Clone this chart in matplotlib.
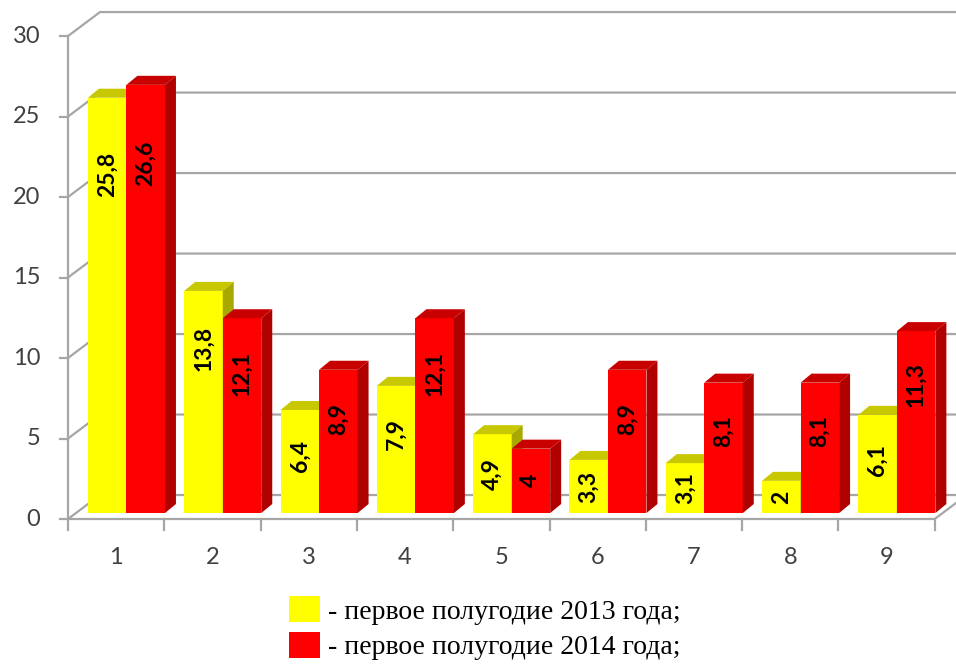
import matplotlib.pyplot as plt
from matplotlib.patches import Polygon, Patch
from matplotlib.font_manager import FontProperties

categories = ['1', '2', '3', '4', '5', '6', '7', '8', '9']
first_half_2013 = [25.8, 13.8, 6.4, 7.9, 4.9, 3.3, 3.1, 2, 6.1]
first_half_2014 = [26.6, 12.1, 8.9, 12.1, 4, 8.9, 8.1, 8.1, 11.3]
y_ticks = [0, 5, 10, 15, 20, 25, 30]
legend_labels = ['- первое полугодие 2013 года;', '- первое полугодие 2014 года;']

fig = plt.figure(figsize=(9.56, 6.70), dpi=100)
ax = fig.add_axes([0, 0, 1, 1])
ax.set_xlim(-0.706, 9.221)
ax.set_ylim(-9.38, 32.24)
ax.axis('off')

n = len(categories)
grid_c = '#a6a6a6'
tick_c = '#404040'
wall_dx, wall_dy = 0.332, 1.49

# back wall + left wall gridlines, y ticks
for t in y_ticks:
    ax.plot([0, wall_dx, n + 1], [t, t + wall_dy, t + wall_dy],
            color=grid_c, lw=1.6, zorder=1)
    ax.plot([-0.083, 0], [t, t], color=grid_c, lw=1.6, zorder=1)
    ax.text(-0.29, t, str(t), ha='right', va='center', fontsize=17,
            family='Lato', color=tick_c)

# floor / front axes
ax.plot([0, 0], [0, y_ticks[-1]], color=grid_c, lw=1.6, zorder=5)
ax.plot([0, n, n + wall_dx], [0, 0, wall_dy], color=grid_c, lw=1.6, zorder=5)
for k in range(n + 1):
    ax.plot([k, k], [0, -0.68], color=grid_c, lw=1.6, zorder=5)
for k, c in enumerate(categories):
    ax.text(k + 0.5, -2.4, c, ha='center', va='center', fontsize=17,
            family='Lato', color=tick_c)

bar_w = 0.40
x0 = 0.207
base = 0.37
ddx, ddy = 0.114, 0.56


def draw_bar(left, h, face, top, side):
    l, r, b, t = left, left + bar_w, base, base + h
    ax.add_patch(Polygon([(l, b), (r, b), (r, t), (l, t)], fc=face, ec='none', zorder=3))
    ax.add_patch(Polygon([(l, t), (r, t), (r + ddx, t + ddy), (l + ddx, t + ddy)],
                         fc=top, ec='none', zorder=3))
    ax.add_patch(Polygon([(r, b), (r + ddx, b + ddy), (r + ddx, t + ddy), (r, t)],
                         fc=side, ec='none', zorder=3))
    lab = ('%g' % h).replace('.', ',')
    yc = base + h / 2 + max(0, 0.4 * (h - 5.5))
    ax.text(l + bar_w / 2, yc, lab, rotation=90, ha='center', va='center',
            fontsize=16.5, fontweight='bold', family='Lato', color='black', zorder=4)


for k in range(n):
    draw_bar(k + x0, first_half_2013[k], '#ffff00', '#c8c800', '#a8a800')
    draw_bar(k + x0 + bar_w, first_half_2014[k], '#ff0000', '#c80000', '#b00000')

handles = [Patch(fc='#ffff00', lw=0), Patch(fc='#ff0000', lw=0)]
fig.legend(handles, legend_labels, loc='upper left',
           bbox_to_anchor=(289 / 956, 1 - 596 / 670), frameon=False,
           prop=FontProperties(family='Liberation Serif', size=20),
           handlelength=1.12, handleheight=1.08, handletextpad=0.3,
           labelspacing=0.25, borderpad=0, borderaxespad=0)

fig.savefig('out.png', dpi=100)
